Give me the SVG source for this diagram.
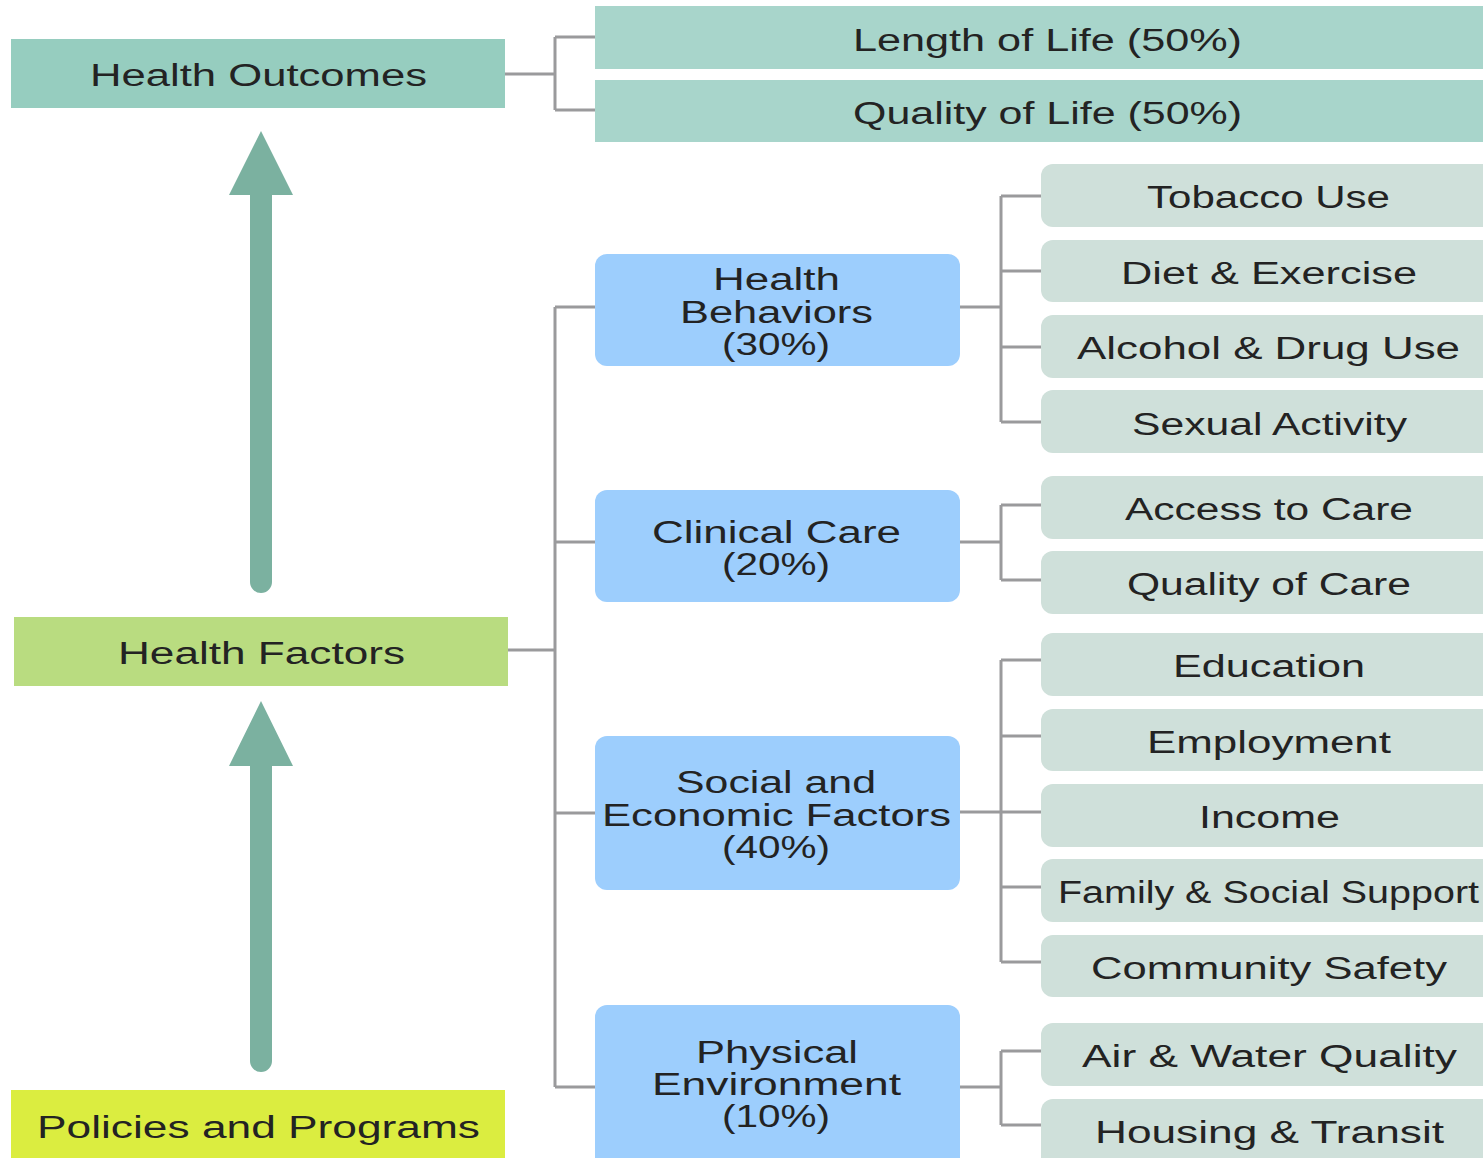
<svg xmlns="http://www.w3.org/2000/svg" width="1483" height="1158" viewBox="0 0 1483 1158">
<style>
text{font-family:"Liberation Sans",Arial,sans-serif;font-size:31px;fill:#232323;text-anchor:start}
.lvl0{stroke:none}
.blue{fill:#9dcefd}
.grey{fill:#cfe0da}
.conn{fill:none;stroke:#9a9a9c;stroke-width:3}
.arrow{fill:#7bb1a0}
</style>
<rect width="1483" height="1158" fill="#ffffff"/>
<g id="connectors" class="conn">
<path d="M505 74H555M555 37V110M555 37H595M555 110H595"/>
<path d="M508 650H555M555 307V1087M555 307H595M555 542H595M555 813H595M555 1087H595"/>
<path d="M960 307H1001M1001 196V422M1001 196H1041M1001 271H1041M1001 347H1041M1001 422H1041"/>
<path d="M960 542H1001M1001 505V580M1001 505H1041M1001 580H1041"/>
<path d="M960 812H1001M1001 660V962M1001 660H1041M1001 736H1041M1001 812H1041M1001 887H1041M1001 962H1041"/>
<path d="M960 1087H1001M1001 1051V1125M1001 1051H1041M1001 1125H1041"/>
</g>
<g id="arrows" class="arrow">
<path d="M261 131L293 195H272V582A11 11 0 0 1 250 582V195H229Z"/>
<path d="M261 701L293 766H272V1061A11 11 0 0 1 250 1061V766H229Z"/>
</g>
<g id="health-outcomes"><rect x="11" y="39" width="494" height="69" fill="#96cdbf"/><text x="90" y="86" textLength="337" lengthAdjust="spacingAndGlyphs">Health Outcomes</text></g>
<g id="length-of-life"><rect x="595" y="6" width="888" height="63" fill="#a8d5cb"/><text x="853" y="51" textLength="389" lengthAdjust="spacingAndGlyphs">Length of Life (50%)</text></g>
<g id="quality-of-life"><rect x="595" y="80" width="888" height="62" fill="#a8d5cb"/><text x="853" y="124" textLength="389" lengthAdjust="spacingAndGlyphs">Quality of Life (50%)</text></g>
<g id="health-factors"><rect x="14" y="617" width="494" height="69" fill="#b9dc80"/><text x="118" y="664" textLength="287" lengthAdjust="spacingAndGlyphs">Health Factors</text></g>
<g id="policies"><rect x="11" y="1090" width="494" height="70" fill="#dbed40"/><text x="37" y="1138" textLength="443" lengthAdjust="spacingAndGlyphs">Policies and Programs</text></g>
<g id="health-behaviors"><rect class="blue" x="595" y="254" width="365" height="112" rx="12"/>
<text x="713" y="290" textLength="127" lengthAdjust="spacingAndGlyphs">Health</text>
<text x="680" y="323" textLength="193" lengthAdjust="spacingAndGlyphs">Behaviors</text>
<text x="722" y="355" textLength="108" lengthAdjust="spacingAndGlyphs">(30%)</text></g>
<g id="clinical-care"><rect class="blue" x="595" y="490" width="365" height="112" rx="12"/>
<text x="652" y="543" textLength="249" lengthAdjust="spacingAndGlyphs">Clinical Care</text>
<text x="722" y="575" textLength="108" lengthAdjust="spacingAndGlyphs">(20%)</text></g>
<g id="social-economic"><rect class="blue" x="595" y="736" width="365" height="154" rx="12"/>
<text x="676" y="793" textLength="200" lengthAdjust="spacingAndGlyphs">Social and</text>
<text x="602" y="826" textLength="349" lengthAdjust="spacingAndGlyphs">Economic Factors</text>
<text x="722" y="858" textLength="108" lengthAdjust="spacingAndGlyphs">(40%)</text></g>
<g id="physical-environment"><rect class="blue" x="595" y="1005" width="365" height="170" rx="12"/>
<text x="696" y="1063" textLength="162" lengthAdjust="spacingAndGlyphs">Physical</text>
<text x="652" y="1095" textLength="249" lengthAdjust="spacingAndGlyphs">Environment</text>
<text x="722" y="1127" textLength="108" lengthAdjust="spacingAndGlyphs">(10%)</text></g>
<g id="tobacco"><rect class="grey" x="1041" y="164" width="460" height="63" rx="12"/><text x="1147" y="208" textLength="243" lengthAdjust="spacingAndGlyphs">Tobacco Use</text></g>
<g id="diet"><rect class="grey" x="1041" y="240" width="460" height="62" rx="12"/><text x="1121" y="284" textLength="296" lengthAdjust="spacingAndGlyphs">Diet &amp; Exercise</text></g>
<g id="alcohol"><rect class="grey" x="1041" y="315" width="460" height="63" rx="12"/><text x="1077" y="359" textLength="383" lengthAdjust="spacingAndGlyphs">Alcohol &amp; Drug Use</text></g>
<g id="sexual"><rect class="grey" x="1041" y="390" width="460" height="63" rx="12"/><text x="1132" y="435" textLength="275" lengthAdjust="spacingAndGlyphs">Sexual Activity</text></g>
<g id="access"><rect class="grey" x="1041" y="476" width="460" height="63" rx="12"/><text x="1125" y="520" textLength="288" lengthAdjust="spacingAndGlyphs">Access to Care</text></g>
<g id="quality-care"><rect class="grey" x="1041" y="551" width="460" height="63" rx="12"/><text x="1127" y="595" textLength="284" lengthAdjust="spacingAndGlyphs">Quality of Care</text></g>
<g id="education"><rect class="grey" x="1041" y="633" width="460" height="63" rx="12"/><text x="1173" y="677" textLength="192" lengthAdjust="spacingAndGlyphs">Education</text></g>
<g id="employment"><rect class="grey" x="1041" y="709" width="460" height="62" rx="12"/><text x="1147" y="753" textLength="244" lengthAdjust="spacingAndGlyphs">Employment</text></g>
<g id="income"><rect class="grey" x="1041" y="784" width="460" height="63" rx="12"/><text x="1199" y="828" textLength="141" lengthAdjust="spacingAndGlyphs">Income</text></g>
<g id="family"><rect class="grey" x="1041" y="859" width="460" height="63" rx="12"/><text x="1058" y="903" textLength="421" lengthAdjust="spacingAndGlyphs">Family &amp; Social Support</text></g>
<g id="community"><rect class="grey" x="1041" y="935" width="460" height="62" rx="12"/><text x="1091" y="979" textLength="356" lengthAdjust="spacingAndGlyphs">Community Safety</text></g>
<g id="air-water"><rect class="grey" x="1041" y="1023" width="460" height="63" rx="12"/><text x="1082" y="1067" textLength="375" lengthAdjust="spacingAndGlyphs">Air &amp; Water Quality</text></g>
<g id="housing"><rect class="grey" x="1041" y="1099" width="460" height="80" rx="12"/><text x="1095" y="1143" textLength="349" lengthAdjust="spacingAndGlyphs">Housing &amp; Transit</text></g>
</svg>
